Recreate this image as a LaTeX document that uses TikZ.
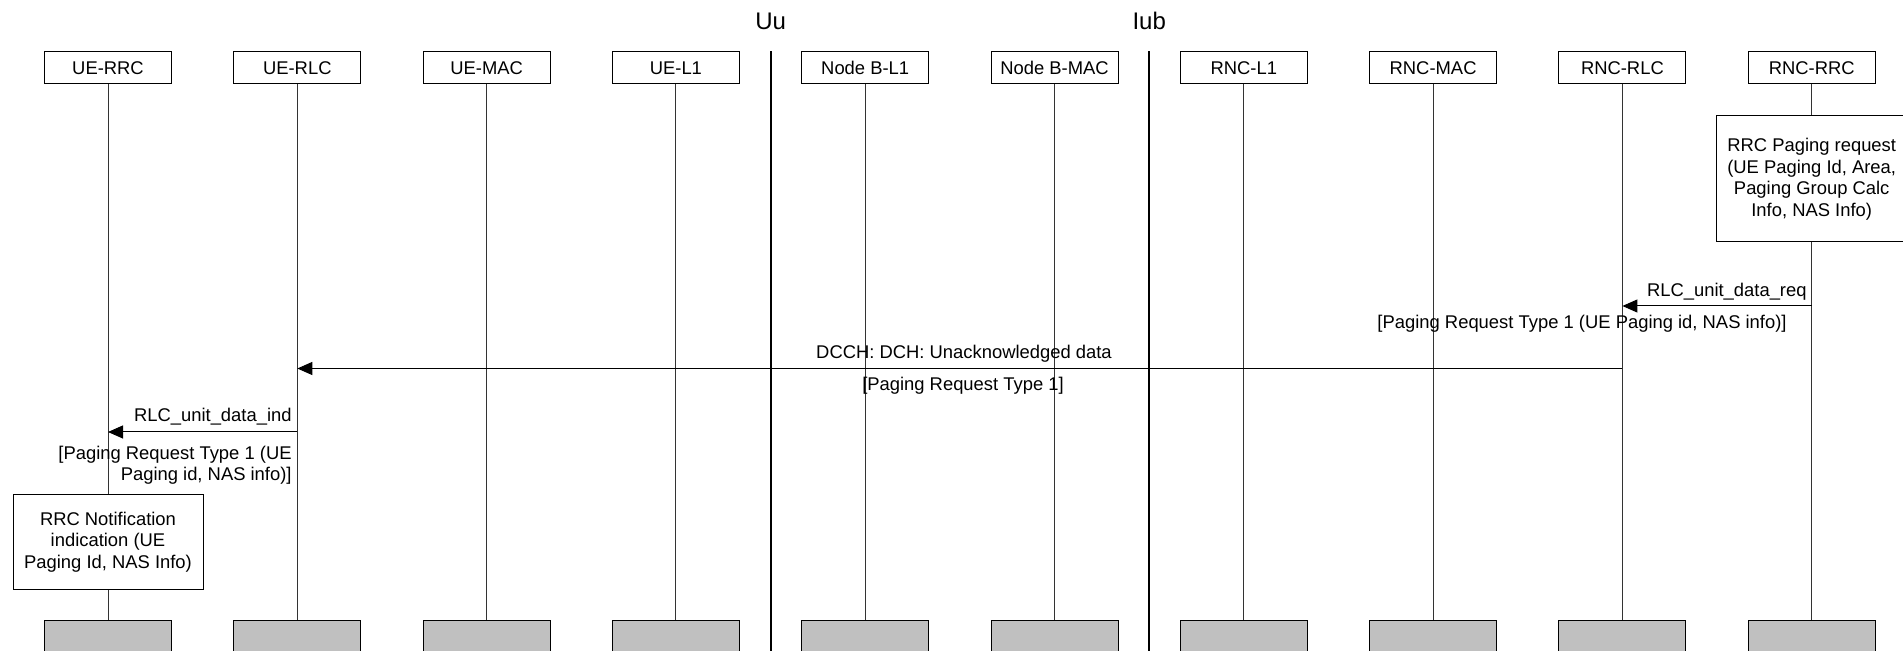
\documentclass[tikz,border=0pt]{standalone}
\usepackage{fontspec}
\setmainfont{Liberation Sans}
\usetikzlibrary{arrows.meta,calc}
\definecolor{footgray}{HTML}{C0C0C0}

\begin{document}
\begin{tikzpicture}[x=0.5pt,y=-0.5pt,
  font=\fontsize{9.2}{10.75}\selectfont,
  hdr/.style={draw,line width=0.5pt,minimum width=63.5pt,minimum height=16pt,inner sep=0pt},
  ftr/.style={hdr,fill=footgray},
  life/.style={line width=0.5pt,black!80},
  iface/.style={line width=1pt},
  msg/.style={line width=0.5pt,-{Triangle[length=7.5pt,width=6.5pt]}},
  note/.style={draw,fill=white,line width=0.5pt,minimum width=95pt,align=center,inner sep=0pt},
  lbl/.style={inner sep=0pt}]
  \useasboundingbox (0,0) rectangle (1903,651);

  % Lifelines with head and foot boxes
  \foreach \id/\txt [count=\i from 0] in {uerrc/UE-RRC,uerlc/UE-RLC,uemac/UE-MAC,uel1/UE-L1,
      nbl1/Node B-L1,nbmac/Node B-MAC,rncl1/RNC-L1,rncmac/RNC-MAC,rncrlc/RNC-RLC,rncrrc/RNC-RRC} {
    \pgfmathsetmacro{\x}{108+189.3*\i}
    \node[hdr] (h-\id) at (\x,68) {\txt};
    \node[ftr] (f-\id) at (\x,637) {};
    \draw[life] (h-\id) -- (f-\id);
  }

  % Uu and Iub interfaces
  \node[lbl,anchor=base,font=\fontsize{12}{14}\selectfont] (uu) at (770.6,30) {Uu};
  \node[lbl,anchor=base,font=\fontsize{12}{14}\selectfont] (iub) at (1149.2,30) {Iub};
  \draw[iface] (uu |- h-uel1.north) -- (uu |- f-uel1.south);
  \draw[iface] (iub |- h-nbmac.north) -- (iub |- f-nbmac.south);

  % Primitives in the boxes
  \node[note,minimum height=63pt] (pgreq) at (h-rncrrc |- 0,179)
    {RRC Paging request\\(UE Paging Id, Area,\\Paging Group Calc\\Info, NAS Info)};
  \node[note,minimum height=47.5pt] (notif) at (h-uerrc |- 0,542)
    {RRC Notification\\indication (UE\\Paging Id, NAS Info)};

  % Messages
  \draw[msg] (h-rncrrc |- pgreq.south) ++(0,63.5) coordinate (req-s) -- (h-rncrlc |- req-s);
  \node[lbl,anchor=base east] (req-t) at (1807,296.5) {RLC\_unit\_data\_req};
  \node[lbl,anchor=base east] (req-p) at (1787,328.5) {[Paging Request Type 1 (UE Paging id, NAS info)]};

  \draw[msg] (h-rncrlc |- 0,368.5) coordinate (dch-s) -- (h-uerlc |- dch-s);
  \node[lbl,anchor=base] (dch-t) at (964,358.8) {DCCH: DCH: Unacknowledged data};
  \node[lbl,anchor=base] (dch-p) at (963,390.8) {[Paging Request Type 1]};

  \draw[msg] (h-uerlc |- 0,432) coordinate (ind-s) -- (h-uerrc |- ind-s);
  \node[lbl,anchor=base east] (ind-t) at (292,421.5) {RLC\_unit\_data\_ind};
  \node[lbl,anchor=base east] (ind-p1) at (292,459.2) {[Paging Request Type 1 (UE};
  \node[lbl,anchor=base east] (ind-p2) at (292,480.5) {Paging id, NAS info)]};
\end{tikzpicture}
\end{document}
